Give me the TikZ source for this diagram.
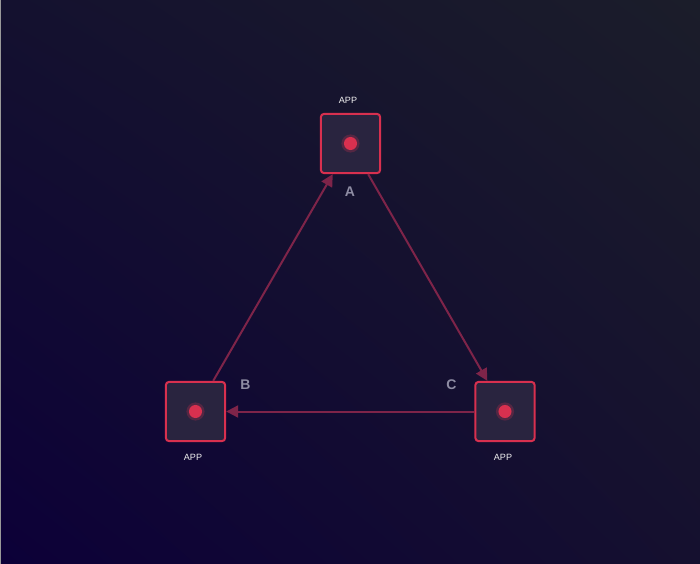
\documentclass[tikz,border=0pt]{standalone}
\usepackage{fontspec}
\setmainfont{Liberation Sans}
\usetikzlibrary{arrows.meta,shadings}

\definecolor{bgll}{HTML}{0C0038}
\definecolor{bgul}{HTML}{14112F}
\definecolor{bglr}{HTML}{15102F}
\definecolor{bgur}{HTML}{1B1D2A}
\definecolor{appred}{HTML}{D8304F}
\definecolor{appfill}{HTML}{29243F}
\definecolor{edgered}{HTML}{7E2449}
\definecolor{lblgray}{HTML}{8E8CA3}

\tikzset{
  app/.style={draw=appred, fill=appfill, line width=1.5pt, rounded corners=2.5pt,
    minimum size=44.5pt, inner sep=0pt},
  applbl/.style={text=white!88!gray, font=\fontsize{6.8}{8}\selectfont},
  letter/.style={text=lblgray, font=\fontsize{10.5}{12}\selectfont\bfseries},
  link/.style={draw=edgered, line width=1.5pt, -{Triangle[length=9pt,width=9pt]}},
}

\begin{document}
\begin{tikzpicture}[x=0.75pt,y=-0.75pt]
         \useasboundingbox (0,0) rectangle (700,564) ;
         \shade[lower left=bgll, upper left=bgul, lower right=bglr, upper right=bgur]
         (0,0) rectangle (700,564) ;
         \draw[color=gray!80,line width=0.8pt] (0.5,0) -- (0.5,564) ;
         % the three apps
         \node[app] (A) at (350.5,143.5) {} ;
         \node[app] (B) at (195.5,411.5) {} ;
         \node[app] (C) at (505,411.5) {} ;
         \foreach \n in {A,B,C} {
           \fill[appred,opacity=0.25] (\n) circle (6.8pt) ;
           \fill[appred] (\n) circle (4.9pt) ;
         }
         \node[applbl] (appA) at (348,100) {APP} ;
         \node[applbl] (appB) at (193,457.5) {APP} ;
         \node[applbl] (appC) at (503,457.5) {APP} ;
         \node[letter] (labA) at (350,191.5) {A} ;
         \node[letter] (labB) at (245.5,385) {B} ;
         \node[letter] (labC) at (451.5,385) {C} ;
         % links
         \draw[link] (B) -- (A) ;
         \draw[link] (A) -- (C) ;
         \draw[link] (C) -- (B) ;
       \end{tikzpicture}
\end{document}
